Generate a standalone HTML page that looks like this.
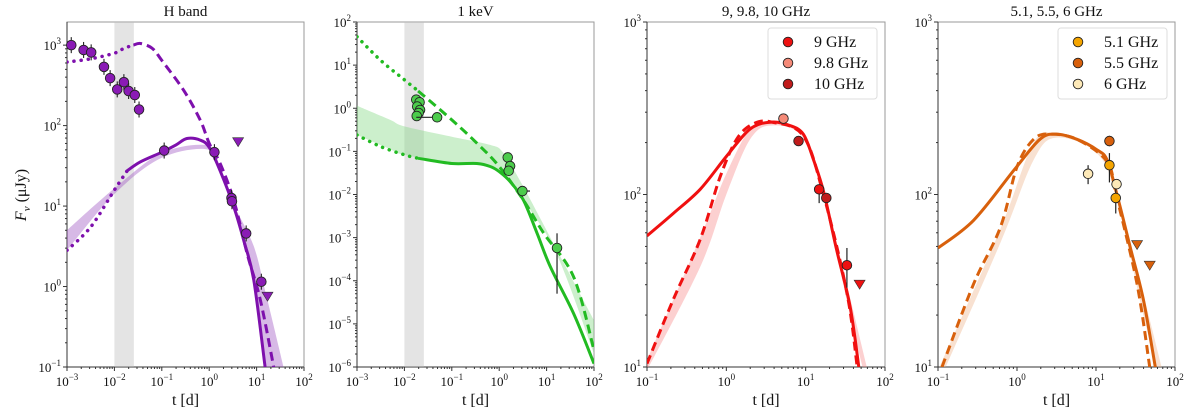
<!DOCTYPE html>
<html><head><meta charset="utf-8">
<style>
html,body{margin:0;padding:0;background:#fff;}
svg{display:block;font-family:"Liberation Serif",serif;}
</style></head>
<body>
<svg id="fig" width="1200" height="411" viewBox="0 0 1200 411" xmlns="http://www.w3.org/2000/svg"></svg>
<script>
// ---------- DATA (log10 values) ----------
// Panel 1: H band
const hPointsT = [-2.91,-2.65,-2.49,-2.22,-2.09,-1.94,-1.80,-1.70,-1.57,-1.48,-0.95,0.11,0.47,0.48,0.78,1.10];
const hPointsF = [3.00,2.94,2.91,2.73,2.59,2.45,2.54,2.43,2.38,2.20,1.69,1.67,1.10,1.06,0.66,0.06];
const hLimT = [0.61,1.23];
const hLimF = [1.80,-0.12];
const hUpperDotT = [-3,-2.5,-2.0,-1.8,-1.6];
const hUpperDotF = [2.79,2.83,2.90,2.96,3.00];
const hUpperDashT = [-1.6,-1.45,-1.2,-1.0,-0.54,-0.19,0,0.23,0.52,0.80,1.08,1.36];
const hUpperDashF = [3.00,3.02,2.96,2.81,2.44,2.07,1.78,1.53,1.07,0.41,-0.17,-1.0];
const hLowerDotT = [-3,-2.5,-2.0,-1.73];
const hLowerDotF = [0.45,0.74,1.20,1.44];
const hLowerSolidT = [-1.73,-1.45,-1.0,-0.7,-0.47,-0.19,0,0.23,0.52,0.73,0.94,1.18];
const hLowerSolidF = [1.44,1.55,1.67,1.76,1.84,1.82,1.73,1.44,0.99,0.57,0.08,-1.0];
const hBandT = [-3,-2,-1,0,0.23,0.52,0.94,1.2,1.57];
const hBandHi = [0.70,1.22,1.66,1.75,1.47,1.02,0.50,-0.1,-1.0];
const hBandLo = [0.45,1.15,1.60,1.70,1.42,0.95,0.05,-1.0,-1.2];

// Panel 2: 1 keV
const xPointsT = [-1.75,-1.68,-1.73,-1.67,-1.70,-1.74,-1.31,0.18,0.23,0.20,0.49,1.22];
const xPointsF = [0.20,0.14,0.04,-0.04,-0.11,-0.18,-0.21,-1.14,-1.34,-1.45,-1.92,-3.24];
const xUpperDotT = [-3,-2.5,-2.0,-1.71];
const xUpperDotF = [1.66,1.11,0.66,0.40];
const xUpperDashT = [-1.71,-1,-0.47,0,0.51,0.94,1.57,2.0];
const xUpperDashF = [0.40,-0.27,-0.81,-1.35,-2.13,-2.90,-3.91,-5.61];
const xLowerDotT = [-3,-2.5,-2.0,-1.71];
const xLowerDotF = [-0.62,-0.89,-1.08,-1.16];
const xLowerSolidT = [-1.71,-1,-0.47,-0.19,0,0.23,0.51,0.80,1.08,1.57,2.0];
const xLowerSolidF = [-1.16,-1.28,-1.28,-1.35,-1.47,-1.70,-2.13,-2.90,-3.68,-4.76,-5.92];
const xBandT = [-3,-2.3,-2,-1,-0.19,0.09,0.51,1.22,2.0];
const xBandHi = [0.06,-0.27,-0.42,-0.66,-0.85,-1.04,-1.82,-3.29,-4.92];
const xBandLo = [-0.62,-0.95,-1.08,-1.28,-1.35,-1.55,-2.13,-3.40,-5.69];

// Panel 3: 9, 9.8, 10 GHz
const r9T = [1.17,1.52], r9F = [2.03,1.59];
const r98T = [0.72], r98F = [2.44];
const r10T = [0.91,1.26], r10F = [2.31,1.98];
const rLimT = [1.68], rLimF = [1.48];
const rSolidT = [-1,-0.67,-0.33,0,0.30,0.57,0.80,0.97,1.10,1.23,1.39,1.56,1.67];
const rSolidF = [1.76,1.89,2.03,2.22,2.38,2.42,2.40,2.35,2.20,2.01,1.68,1.35,1.0];
const rDashT = [-1,-0.67,-0.33,-0.08,0.13,0.34,0.57,0.97,1.23,1.52,1.65];
const rDashF = [1.02,1.39,1.74,2.10,2.32,2.41,2.42,2.34,1.99,1.43,1.0];
const rBandT = [-1,-0.33,0,0.3,0.57,0.97,1.23,1.56,1.77];
const rBandHi = [1.04,1.75,2.12,2.38,2.42,2.35,2.01,1.40,1.0];
const rBandLo = [0.98,1.58,2.0,2.32,2.40,2.33,1.98,1.30,0.9];

// Panel 4: 5.1, 5.5, 6 GHz
const o51T = [1.17,1.25], o51F = [2.17,1.98];
const o55T = [1.17], o55F = [2.31];
const o6T = [0.90,1.26], o6F = [2.12,2.06];
const oLimT = [1.52,1.68], oLimF = [1.71,1.59];
const oSolidT = [-1,-0.55,-0.04,0.29,0.50,0.76,1.01,1.14,1.26,1.43,1.60,1.75];
const oSolidF = [1.69,1.85,2.14,2.32,2.35,2.32,2.26,2.20,2.01,1.70,1.39,1.0];
const oDashT = [-0.95,-0.55,-0.21,0,0.21,0.42,0.76,1.14,1.26,1.52,1.68];
const oDashF = [1.0,1.48,1.81,2.16,2.32,2.35,2.32,2.19,1.99,1.48,1.0];
const oBandT = [-1,-0.21,0.21,0.5,1.01,1.26,1.6,1.83];
const oBandHi = [0.98,1.80,2.30,2.35,2.26,2.01,1.42,1.0];
const oBandLo = [0.90,1.72,2.20,2.33,2.24,1.98,1.30,0.9];

const titles = ["H band","1 keV","9, 9.8, 10 GHz","5.1, 5.5, 6 GHz"];

// ---------- RENDER ----------
const NS="http://www.w3.org/2000/svg";
const svg=document.getElementById('fig');
function mk(tag,attrs,parent){const e=document.createElementNS(NS,tag);for(const k in attrs)e.setAttribute(k,attrs[k]);(parent||svg).appendChild(e);return e;}
const TOP=22,BOT=367;
function panel(x0,x1,xmin,xmax,ymin,ymax){
  const sx=v=>x0+(v-xmin)/(xmax-xmin)*(x1-x0);
  const sy=v=>BOT-(v-ymin)/(ymax-ymin)*(BOT-TOP);
  return {x0,x1,xmin,xmax,ymin,ymax,ymaxTick:Math.floor(ymax+1e-6),sx,sy};
}
const P=[panel(67,304,-3,2,-1,3.2875),panel(357,594,-3,2,-6,2),panel(647,885,-1,2,1,3),panel(938,1175,-1,2,1,3)];
function powLabel(t,n){
  t.textContent='';
  const a=document.createElementNS(NS,'tspan');a.textContent='10';t.appendChild(a);
  const b=document.createElementNS(NS,'tspan');b.setAttribute('font-size','9');b.setAttribute('dy','-6');
  b.textContent=String(n).replace('-','\u2212');t.appendChild(b);
}

function drawAxes(p,i){
  const g=mk('g',{});
  
  
  mk('rect',{x:p.x0,y:TOP,width:p.x1-p.x0,height:BOT-TOP,fill:'none',stroke:'#999','stroke-width':1},g);
  mk('line',{x1:p.x0,y1:TOP,x2:p.x0,y2:BOT,stroke:'#333','stroke-width':1},g);
  mk('line',{x1:p.x0,y1:BOT,x2:p.x1,y2:BOT,stroke:'#333','stroke-width':1},g);
  for(let d=p.xmin;d<=p.xmax;d++){
    const x=p.sx(d);
    mk('line',{x1:x,y1:BOT,x2:x,y2:BOT+4,stroke:'#333'},g);
    const t=mk('text',{x:x,y:BOT+19,'font-size':13,'text-anchor':'middle',fill:'#111'},g);powLabel(t,d);
    if(d<p.xmax)for(let k=2;k<10;k++){const xm=p.sx(d+Math.log10(k));mk('line',{x1:xm,y1:BOT,x2:xm,y2:BOT+2,stroke:'#333'},g);}
  }
  for(let d=p.ymin;d<=p.ymaxTick;d++){
    const y=p.sy(d);
    mk('line',{x1:p.x0-4,y1:y,x2:p.x0,y2:y,stroke:'#333'},g);
    const t=mk('text',{x:p.x0-6,y:y+5,'font-size':13,'text-anchor':'end',fill:'#111'},g);powLabel(t,d);
    for(let k=2;k<10;k++){const v=d+Math.log10(k);if(v>p.ymax)break;const ym=p.sy(v);mk('line',{x1:p.x0-2,y1:ym,x2:p.x0,y2:ym,stroke:'#333'},g);}
  }
  const tt=mk('text',{x:(p.x0+p.x1)/2,y:16,'font-size':15,'text-anchor':'middle',fill:'#111'},g);
  tt.textContent=titles[i];
  const xl=mk('text',{x:(p.x0+p.x1)/2,y:BOT+38,'font-size':16,'text-anchor':'middle',fill:'#111'},g);
  xl.textContent='t [d]';
}
function clipFor(p,i){
  const c=mk('clipPath',{id:'c'+i});mk('rect',{x:p.x0,y:TOP,width:p.x1-p.x0,height:BOT-TOP},c);
  return 'url(#c'+i+')';
}
// smooth path through points (Catmull-Rom)
function pathD(p,T,F){
  const pts=T.map((t,j)=>[p.sx(t),p.sy(F[j])]);
  let d='M'+pts[0][0].toFixed(1)+','+pts[0][1].toFixed(1);
  for(let j=0;j<pts.length-1;j++){
    const p0=pts[j-1]||pts[j],p1=pts[j],p2=pts[j+1],p3=pts[j+2]||p2;
    const c1=[p1[0]+(p2[0]-p0[0])/6,p1[1]+(p2[1]-p0[1])/6];
    const c2=[p2[0]-(p3[0]-p1[0])/6,p2[1]-(p3[1]-p1[1])/6];
    d+='C'+c1[0].toFixed(1)+','+c1[1].toFixed(1)+' '+c2[0].toFixed(1)+','+c2[1].toFixed(1)+' '+p2[0].toFixed(1)+','+p2[1].toFixed(1);
  }
  return d;
}
function line(p,clip,T,F,color,style,name){
  const a={d:pathD(p,T,F),fill:'none',stroke:color,'stroke-width':3,'clip-path':clip,'stroke-linejoin':'round'};
  if(style==='dash'){a['stroke-dasharray']='9,5';}
  if(style==='dot'){a['stroke-dasharray']='0.1,7';a['stroke-linecap']='round';a['stroke-width']=3.5;}
  const e=mk('path',a);
}
function band(p,clip,T,H,L,color,name){
  const rT=T.slice().reverse(),rL=L.slice().reverse();
  let d=pathD(p,T,H)+pathD(p,rT,rL).replace('M','L');
  const e=mk('path',{d:d+'Z',fill:color,'fill-opacity':0.4,stroke:'none','clip-path':clip});
  
}
function gray(p,a,b){const e=mk('rect',{x:p.sx(a),y:TOP,width:p.sx(b)-p.sx(a),height:BOT-TOP,fill:'#bbb','fill-opacity':0.4});
  }
function points(p,T,F,color,name,errs){
  T.forEach((t,j)=>{
    const x=p.sx(t),y=p.sy(F[j]);
    if(errs&&errs[j]){const er=errs[j];
      if(er.y)mk('line',{x1:x,y1:p.sy(er.y[0]),x2:x,y2:p.sy(er.y[1]),stroke:'#222','stroke-width':1.2});
      if(er.x)mk('line',{x1:p.sx(er.x[0]),y1:y,x2:p.sx(er.x[1]),y2:y,stroke:'#222','stroke-width':1.2});}
    const c=mk('circle',{cx:x,cy:y,r:4.8,fill:color,stroke:'#222','stroke-width':0.9});
    
  });
}
function limits(p,T,F,color,name){
  T.forEach((t,j)=>{const x=p.sx(t),y=p.sy(F[j]);
    const e=mk('path',{d:`M${x-5.5},${y-4}L${x+5.5},${y-4}L${x},${y+5}Z`,fill:color,stroke:'#333','stroke-width':0.6});
    });
}
function legend(x0,x1,entries){
  const g=mk('g',{});
  mk('rect',{x:x0,y:28,width:x1-x0,height:71,rx:3,fill:'#fff','fill-opacity':0.8,stroke:'#ddd'},g);
  entries.forEach((en,j)=>{const y=42+j*21;
    const it=mk('g',{},g);
    mk('circle',{cx:x0+20,cy:y,r:4.8,fill:en[1],stroke:'#222','stroke-width':0.9},it);
    const t=mk('text',{x:x0+46,y:y+5,'font-size':16,fill:'#111'},it);t.textContent=en[0];});
}

P.forEach(drawAxes);
const clips=P.map((p,i)=>clipFor(p,i));

// Panel 1
const PU='#7e10ad',PM='#8a1bb5';
gray(P[0],-2,-1.59);
band(P[0],clips[0],hBandT,hBandHi,hBandLo,'#9b4fc0','band-h');
line(P[0],clips[0],hUpperDotT,hUpperDotF,PU,'dot','h-model-upper-early');
line(P[0],clips[0],hUpperDashT,hUpperDashF,PU,'dash','h-model-upper');
line(P[0],clips[0],hLowerDotT,hLowerDotF,PU,'dot','h-model-lower-early');
line(P[0],clips[0],hLowerSolidT,hLowerSolidF,PU,'solid','h-model-lower');
hPointsT.forEach((t,j)=>{const x=P[0].sx(t),y=P[0].sy(hPointsF[j]);mk('line',{x1:x,y1:y-8,x2:x,y2:y+8,stroke:'#222','stroke-width':1.1});});
points(P[0],hPointsT,hPointsF,PM,'h-band-point');
limits(P[0],hLimT,hLimF,PM,'h-band-upper-limit');
const yl=mk('text',{transform:'translate(26,195) rotate(-90)','font-size':16,'text-anchor':'middle',fill:'#111'});

yl.innerHTML='<tspan font-style="italic">F</tspan><tspan font-style="italic" font-size="11" dy="4">ν</tspan><tspan dy="-4"> (μJy)</tspan>';

// Panel 2
const GR='#22bb22',GM='#4ccc4c';
gray(P[1],-2,-1.59);
band(P[1],clips[1],xBandT,xBandHi,xBandLo,'#7fd67f','band-xray');
line(P[1],clips[1],xUpperDotT,xUpperDotF,GR,'dot','xray-model-upper-early');
line(P[1],clips[1],xUpperDashT,xUpperDashF,GR,'dash','xray-model-upper');
line(P[1],clips[1],xLowerDotT,xLowerDotF,GR,'dot','xray-model-lower-early');
line(P[1],clips[1],xLowerSolidT,xLowerSolidF,GR,'solid','xray-model-lower');
const xErr=xPointsT.map(()=>null);
xErr[6]={x:[-1.75,-1.31]};xErr[10]={x:[0.40,0.65],y:[-1.85,-2.05]};xErr[11]={y:[-2.9,-4.3]};
points(P[1],xPointsT,xPointsF,GM,'xray-point',xErr);

// Panel 3
band(P[2],clips[2],rBandT,rBandHi,rBandLo,'#f78a8a','band-9ghz');
line(P[2],clips[2],rDashT,rDashF,'#f01010','dash','radio-x-model-dashed');
line(P[2],clips[2],rSolidT,rSolidF,'#f01010','solid','radio-x-model-solid');
points(P[2],r9T,r9F,'#ee1111','point-9ghz',[{y:[2.05,1.95]},{y:[1.69,1.46]}]);
points(P[2],r98T,r98F,'#f58a78','point-9-8ghz');
points(P[2],r10T,r10F,'#c01b1b','point-10ghz');
limits(P[2],rLimT,rLimF,'#ee1111','upper-limit-9ghz');
legend(768,877,[['9 GHz','#ee1111'],['9.8 GHz','#f58a78'],['10 GHz','#c01b1b']]);

// Panel 4
const OR='#d8600c';
band(P[3],clips[3],oBandT,oBandHi,oBandLo,'#eeb48c','band-5ghz');
line(P[3],clips[3],oDashT,oDashF,OR,'dash','radio-c-model-dashed');
line(P[3],clips[3],oSolidT,oSolidF,OR,'solid','radio-c-model-solid');
points(P[3],o51T,o51F,'#f5a500','point-5-1ghz',[{y:[2.24,2.07]},{y:[2.05,1.89]}]);
points(P[3],o55T,o55F,'#d8600c','point-5-5ghz',[{y:[2.34,2.28]}]);
points(P[3],o6T,o6F,'#fde9b8','point-6ghz',[{y:[2.17,2.06]},null]);
limits(P[3],oLimT,oLimF,OR,'upper-limit-radio-c');
legend(1058,1167,[['5.1 GHz','#f5a500'],['5.5 GHz','#d8600c'],['6 GHz','#fde9b8']]);
</script>
</body></html>
